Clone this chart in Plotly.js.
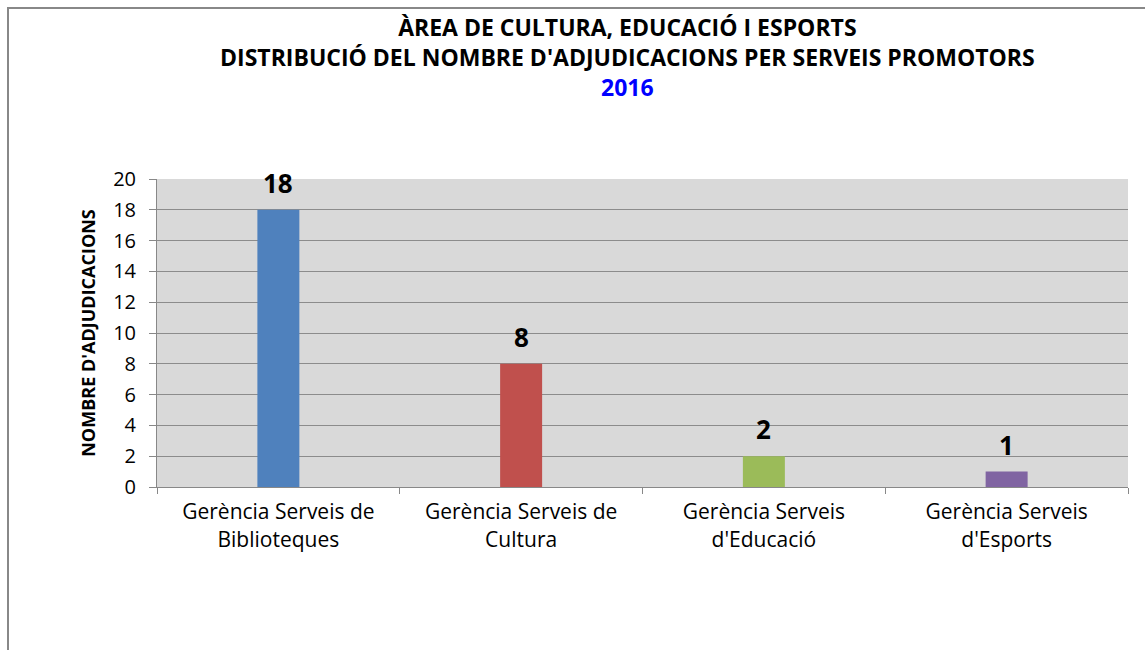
<!DOCTYPE html>
<html><head><meta charset="utf-8">
<script src="https://cdn.plot.ly/plotly-3.0.1.min.js"></script>
<style>html,body{margin:0;padding:0;background:#fff;}#chart{width:1145px;height:650px;}</style>
</head><body><div id="chart"></div>
<script>
const categories = ["Gerència Serveis de<br>Biblioteques", "Gerència Serveis de<br>Cultura", "Gerència Serveis<br>d'Educació", "Gerència Serveis<br>d'Esports"];
const values = [18, 8, 2, 1];
const barColors = ["#4F81BD", "#C0504D", "#9BBB59", "#8064A2"];
const yTicks = [0, 2, 4, 6, 8, 10, 12, 14, 16, 18, 20];

const font = "'Open Sans', Lato, sans-serif";
const trace = {
  type: "bar", x: categories, y: values,
  marker: {color: barColors, line: {width: 0}},
  hoverinfo: "none"
};
const annotations = categories.map((c, i) => ({
  x: c, y: values[i], xref: "x", yref: "y", text: "<b>" + values[i] + "</b>",
  showarrow: false, yshift: 27, font: {family: font, size: 26, color: "#000"}
}));
annotations.push({
  xref: "paper", yref: "paper", x: (627 - 157) / 971, y: 1.0, yanchor: "bottom", xanchor: "center",
  yshift: 74, showarrow: false, align: "center",
  text: "<b>ÀREA DE CULTURA, EDUCACIÓ I ESPORTS</b><br><b>DISTRIBUCIÓ DEL NOMBRE D'ADJUDICACIONS PER SERVEIS PROMOTORS</b><br><b><span style='color:#0000FF'>2016</span></b>",
  font: {family: font, size: 23, color: "#000"}
});
const layout = {
  width: 1145, height: 650,
  margin: {l: 157, r: 17, t: 179, b: 163},
  paper_bgcolor: "#fff", plot_bgcolor: "#D9D9D9",
  bargap: 0.827, showlegend: false,
  xaxis: {
    type: "category", tickson: "boundaries", ticks: "outside", ticklen: 6, tickcolor: "#888",
    showline: true, linecolor: "#888", linewidth: 1, showgrid: false, ticklabelstandoff: 6,
    tickfont: {family: font, size: 21, color: "#000"}
  },
  yaxis: {
    range: [0, 20], tickvals: yTicks, ticks: "outside", ticklen: 7, tickcolor: "#888",
    showline: true, linecolor: "#888", gridcolor: "#8C8C8C", gridwidth: 1, zeroline: false,
    ticklabelstandoff: 9,
    tickfont: {family: font, size: 20, color: "#000"},
    title: {text: "<b>NOMBRE D'ADJUDICACIONS</b>", font: {family: font, size: 18, color: "#000"}, standoff: 12}
  },
  annotations: annotations,
  shapes: [{
    type: "rect", xref: "paper", yref: "paper",
    x0: (8 - 157) / 971, x1: 1.2, y0: -0.8, y1: (487 - 8) / 308,
    line: {color: "#888", width: 2}, fillcolor: "rgba(0,0,0,0)", layer: "below"
  }]
};
Plotly.newPlot("chart", [trace], layout, {displayModeBar: false, staticPlot: true});
</script></body></html>
